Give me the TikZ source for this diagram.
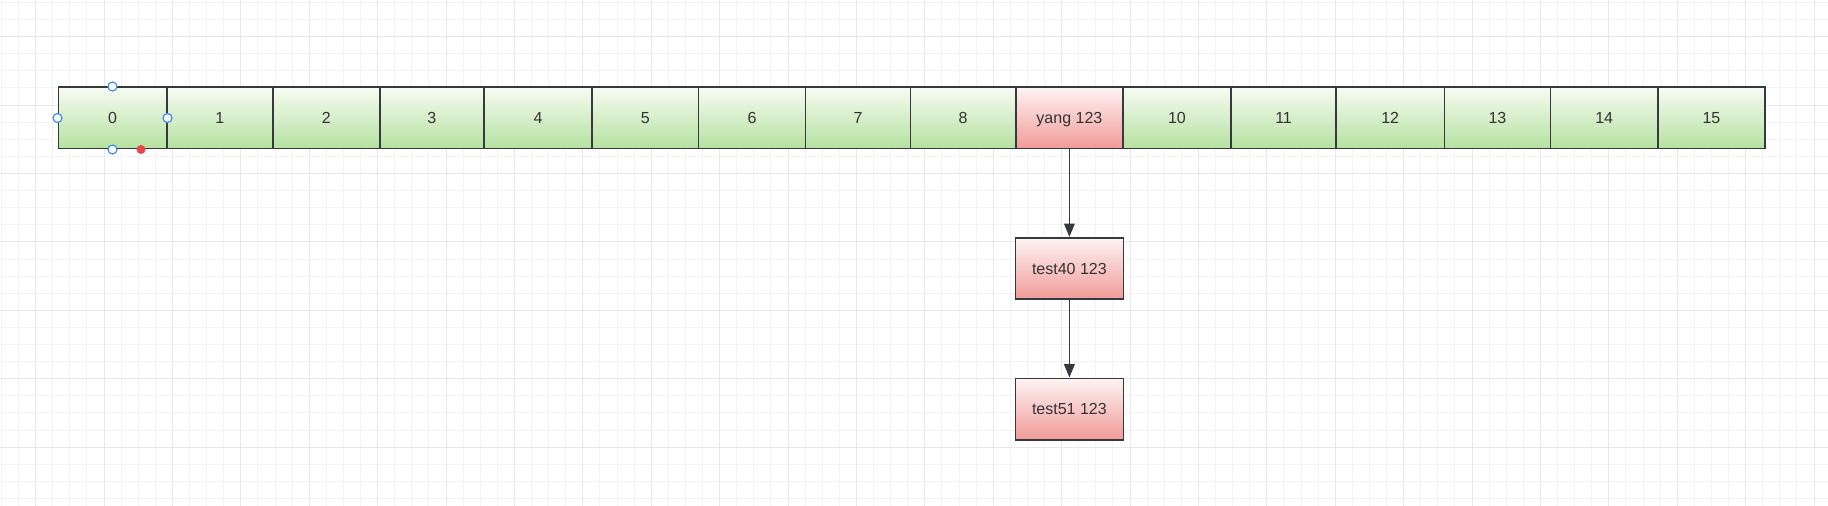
\documentclass[tikz,border=0pt]{standalone}
\usepackage{fontspec}
\setmainfont{Liberation Sans}
\usetikzlibrary{arrows.meta}
\definecolor{gTop}{HTML}{F7FBF3}
\definecolor{gBot}{HTML}{B5E1A0}
\definecolor{rTop}{HTML}{FEF3F3}
\definecolor{rBot}{HTML}{F09B98}
\definecolor{bd}{HTML}{36393D}
\definecolor{txt}{HTML}{333333}
\definecolor{gridMinor}{HTML}{F3F3F3}
\definecolor{gridMajor}{HTML}{E8E8E8}
\definecolor{handle}{HTML}{3D8FE8}
\definecolor{hred}{HTML}{E8464B}
\tikzset{
  cellbox/.style={draw=bd, line width=1.2pt, minimum height=61.4*0.75pt, inner sep=0pt,
    text height=8.6pt, text depth=0pt,
    font=\fontsize{12}{14}\selectfont, text=txt},
  gcell/.style={cellbox, top color=gTop, bottom color=gBot},
  rcell/.style={cellbox, top color=rTop, bottom color=rBot},
  arr/.style={draw=bd, line width=1.1pt, -{Stealth[length=10pt, width=8pt, inset=0pt]}},
  hnd/.style={draw=handle, fill=white, line width=0.9pt},
}
\begin{document}
\begin{tikzpicture}[x=0.75pt, y=-0.75pt]
\useasboundingbox (0,0) rectangle (1828,506);
\fill[white] (0,0) rectangle (1828,506);
% grid
\foreach \x in {1.4,18.5,...,1828} \draw[gridMinor, line width=0.75pt] (\x,0) -- (\x,506);
\foreach \y in {2.5,19.6,...,506} \draw[gridMinor, line width=0.75pt] (0,\y) -- (1828,\y);
\foreach \x in {35.6,104,...,1828} \draw[gridMajor, line width=0.75pt] (\x,0) -- (\x,506);
\foreach \y in {36.7,105.1,...,506} \draw[gridMajor, line width=0.75pt] (0,\y) -- (1828,\y);
% array cells
\node[gcell, minimum width=108.4*0.75pt] (c0) at (112.5,118) {0};
\node[gcell, minimum width=106.1*0.75pt] (c1) at (219.75,118) {1};
\node[gcell, minimum width=107.2*0.75pt] (c2) at (326.4,118) {2};
\node[gcell, minimum width=103.8*0.75pt] (c3) at (431.9,118) {3};
\node[gcell, minimum width=108.4*0.75pt] (c4) at (538,118) {4};
\node[gcell, minimum width=106.1*0.75pt] (c5) at (645.25,118) {5};
\node[gcell, minimum width=107.3*0.75pt] (c6) at (751.95,118) {6};
\node[gcell, minimum width=104.9*0.75pt] (c7) at (858.05,118) {7};
\node[gcell, minimum width=104.9*0.75pt] (c8) at (962.95,118) {8};
\node[rcell, minimum width=107.3*0.75pt] (c9) at (1069.4,118) {yang 123};
\node[gcell, minimum width=108.4*0.75pt] (c10) at (1176.9,118) {10};
\node[gcell, minimum width=104.9*0.75pt] (c11) at (1283.55,118) {11};
\node[gcell, minimum width=108.4*0.75pt] (c12) at (1390.2,118) {12};
\node[gcell, minimum width=106.1*0.75pt] (c13) at (1497.45,118) {13};
\node[gcell, minimum width=107.3*0.75pt] (c14) at (1604.15,118) {14};
\node[gcell, minimum width=107.2*0.75pt] (c15) at (1711.4,118) {15};
% chain
\node[rcell, minimum width=108*0.75pt] (t40) at (1069.4,268.4) {test40 123};
\node[rcell, minimum width=108*0.75pt] (t51) at (1069.4,409) {test51 123};
\draw[arr] (c9.south) -- (t40.north);
\draw[arr] (t40.south) -- (t51.north);
% selection handles on cell 0
\foreach \a in {north,west,east,south} \draw[hnd] (c0.\a) circle[radius=4.5];
\fill[hred] ([xshift=28.5*0.75pt]c0.south) circle[radius=4.5];
\end{tikzpicture}
\end{document}
